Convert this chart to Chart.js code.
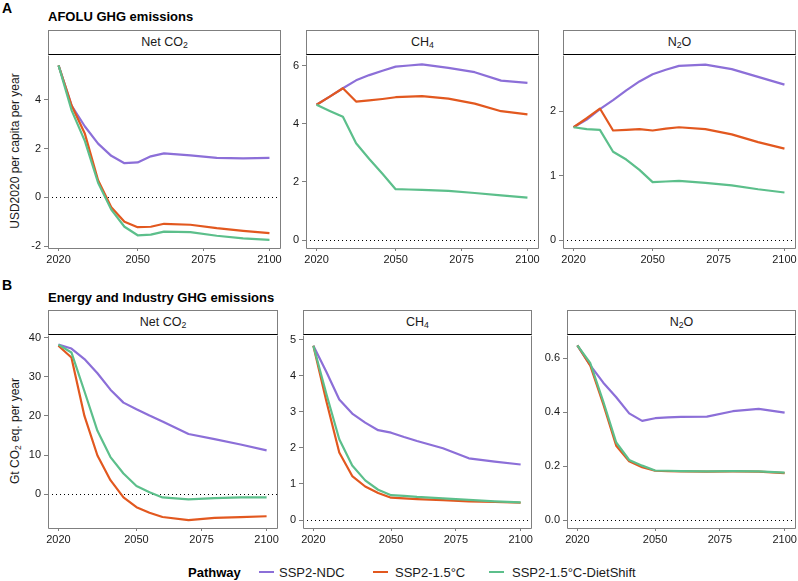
<!DOCTYPE html>
<html lang="en">
<head>
<meta charset="UTF-8">
<title>AFOLU and Energy GHG emissions</title>
<script src="https://cdn.jsdelivr.net/npm/chart.js"></script>
<style>
  body { margin:0; width:798px; height:581px; position:relative; overflow:hidden; background:#fff;
         font-family:"Liberation Sans", Arial, sans-serif; color:#1a1a1a; }
  .txt { position:absolute; line-height:1; white-space:nowrap; }
  .tag { font-weight:bold; font-size:14px; color:#000; }
  .title { font-weight:bold; font-size:13px; color:#000; }
  .strip { position:absolute; box-sizing:border-box; border:1px solid #7f7f7f; border-bottom:1px solid #000;
           text-align:center; font-size:12.5px; background:#fff; }
  .ytitle { position:absolute; width:240px; text-align:center; font-size:12px; line-height:1;
            transform:rotate(-90deg); white-space:nowrap; }
  sub { font-size:70%; vertical-align:-2px; line-height:0; }
  canvas { position:absolute; }
  .key { position:absolute; height:2px; width:15px; }
  .leg { position:absolute; font-size:13px; line-height:1; white-space:nowrap; top:566px; }
</style>
</head>
<body>

<div class="txt tag" style="left:2px; top:1px;">A</div>
<div class="txt title" style="left:48px; top:10px;">AFOLU GHG emissions</div>
<div class="txt tag" style="left:2px; top:278px;">B</div>
<div class="txt title" style="left:48px; top:291px;">Energy and Industry GHG emissions</div>

<div class="ytitle" style="left:-105px; top:145px;">USD2020 per capita per year</div>
<div class="ytitle" style="left:-105px; top:425px;">Gt CO<sub>2</sub> eq. per year</div>

<div id="strips"></div>

<canvas id="a1"></canvas>
<canvas id="a2"></canvas>
<canvas id="a3"></canvas>
<canvas id="b1"></canvas>
<canvas id="b2"></canvas>
<canvas id="b3"></canvas>

<div class="txt" style="left:188px; top:566px; font-size:13px; font-weight:bold; color:#000;">Pathway</div>
<div class="key" id="k1" style="left:259px; top:571px;"></div>
<div class="leg" style="left:279px;">SSP2-NDC</div>
<div class="key" id="k2" style="left:373px; top:571px;"></div>
<div class="leg" style="left:395px;">SSP2-1.5°C</div>
<div class="key" id="k3" style="left:489px; top:571px;"></div>
<div class="leg" style="left:512px;">SSP2-1.5°C-DietShift</div>

<script>
var years = [2020, 2025, 2030, 2035, 2040, 2045, 2050, 2055, 2060, 2070, 2080, 2090, 2100]
var xTicks = [2020, 2050, 2075, 2100]
var pathways = ['SSP2-NDC', 'SSP2-1.5°C', 'SSP2-1.5°C-DietShift']

// A: AFOLU
var afoluCO2_ndc  = [5.4, 3.75, 2.9, 2.2, 1.7, 1.4, 1.43, 1.68, 1.8, 1.72, 1.62, 1.6, 1.62]
var afoluCO2_15   = [5.4, 3.75, 2.6, 0.7, -0.4, -1.0, -1.22, -1.2, -1.08, -1.12, -1.26, -1.37, -1.46]
var afoluCO2_diet = [5.4, 3.55, 2.3, 0.6, -0.5, -1.2, -1.55, -1.52, -1.4, -1.42, -1.57, -1.68, -1.74]

var afoluCH4_ndc  = [4.65, 4.93, 5.22, 5.49, 5.67, 5.82, 5.96, 6.0, 6.04, 5.92, 5.77, 5.48, 5.4]
var afoluCH4_15   = [4.65, 4.93, 5.22, 4.76, 4.8, 4.85, 4.91, 4.93, 4.95, 4.86, 4.69, 4.43, 4.32]
var afoluCH4_diet = [4.65, 4.44, 4.24, 3.33, 2.79, 2.28, 1.75, 1.74, 1.73, 1.69, 1.62, 1.54, 1.46]

var afoluN2O_ndc  = [1.75, 1.87, 2.03, 2.17, 2.32, 2.46, 2.57, 2.64, 2.7, 2.72, 2.65, 2.53, 2.41]
var afoluN2O_15   = [1.75, 1.89, 2.04, 1.7, 1.71, 1.72, 1.7, 1.73, 1.75, 1.72, 1.64, 1.52, 1.42]
var afoluN2O_diet = [1.75, 1.72, 1.71, 1.37, 1.25, 1.09, 0.9, 0.91, 0.92, 0.89, 0.85, 0.79, 0.74]

// B: Energy and Industry
var enCO2_ndc  = [38.2, 37.2, 34.5, 30.9, 26.7, 23.4, 21.7, 20.1, 18.6, 15.4, 14.1, 12.7, 11.2]
var enCO2_15   = [37.9, 34.9, 20, 9.9, 3.6, -0.8, -3.3, -4.7, -5.8, -6.6, -6.0, -5.8, -5.6]
var enCO2_diet = [38.2, 36.2, 26.3, 16.2, 9.5, 5.3, 2.1, 0.5, -0.8, -1.3, -1.0, -0.8, -0.8]

var enCH4_ndc  = [4.83, 4.11, 3.34, 2.95, 2.7, 2.49, 2.42, 2.3, 2.19, 1.99, 1.71, 1.62, 1.54]
var enCH4_15   = [4.83, 3.3, 1.87, 1.22, 0.93, 0.75, 0.62, 0.6, 0.58, 0.55, 0.52, 0.5, 0.48]
var enCH4_diet = [4.83, 3.5, 2.24, 1.51, 1.1, 0.84, 0.69, 0.67, 0.64, 0.6, 0.56, 0.52, 0.49]

var enN2O_ndc  = [0.648, 0.574, 0.51, 0.456, 0.396, 0.368, 0.378, 0.381, 0.383, 0.384, 0.404, 0.413, 0.399]
var enN2O_15   = [0.648, 0.573, 0.43, 0.276, 0.218, 0.196, 0.183, 0.182, 0.181, 0.18, 0.181, 0.18, 0.174]
var enN2O_diet = [0.648, 0.582, 0.44, 0.288, 0.223, 0.202, 0.184, 0.183, 0.182, 0.181, 0.182, 0.181, 0.176]

// tick labels per panel
var ticksA1 = [-2, 0, 2, 4]
var ticksA2 = [0, 2, 4, 6]
var ticksA3 = [0, 1, 2]
var ticksB1 = [0, 10, 20, 30, 40]
var ticksB2 = [0, 1, 2, 3, 4, 5]
var ticksB3 = [0, 0.2, 0.4, 0.6]

var colors = ['#8c6fd8', '#e2581f', '#5cbf8b']
var gray = '#7f7f7f'

document.getElementById('k1').style.background = colors[0]
document.getElementById('k2').style.background = colors[1]
document.getElementById('k3').style.background = colors[2]

var frame = {
  id: 'frame',
  beforeDatasetsDraw: function (chart) {
    var a = chart.chartArea, c = chart.ctx
    var y0 = Math.round(chart.scales.y.getPixelForValue(0)) + 0.5
    c.save()
    c.strokeStyle = '#000'
    c.lineWidth = 1
    c.setLineDash([1, 3])
    c.beginPath()
    c.moveTo(a.left, y0)
    c.lineTo(a.right, y0)
    c.stroke()
    c.restore()
  },
  afterDraw: function (chart) {
    var a = chart.chartArea, c = chart.ctx
    c.save()
    c.strokeStyle = gray
    c.lineWidth = 1
    c.beginPath()
    c.moveTo(a.left + 0.5, a.top)
    c.lineTo(a.left + 0.5, a.bottom + 0.5)
    c.lineTo(a.right + 0.5, a.bottom + 0.5)
    c.lineTo(a.right + 0.5, a.top)
    c.stroke()
    c.restore()
  }
}

function pts(vals) {
  var out = []
  for (var i = 0; i < years.length; i++) out.push({ x: years[i], y: vals[i] })
  return out
}

function strip(box, top, html) {
  var d = document.createElement('div')
  d.className = 'strip'
  d.style.left = box[0] + 'px'
  d.style.top = top + 'px'
  d.style.width = (box[2] - box[0] + 1) + 'px'
  d.style.height = (box[1] - top + 1) + 'px'
  d.style.lineHeight = (box[1] - top - 1) + 'px'
  d.innerHTML = html
  document.getElementById('strips').appendChild(d)
}

// box = [left, top, right, bottom] of the plot panel
function panel(id, box, series, yMin, yMax, yTicks, digits) {
  var cv = document.getElementById(id)
  cv.width = box[2] - box[0] + 55
  cv.height = box[3] - box[1] + 28
  cv.style.left = (box[0] - 40) + 'px'
  cv.style.top = (box[1] - 8) + 'px'

  var sets = []
  for (var i = 0; i < 3; i++) {
    sets.push({
      label: pathways[i],
      data: pts(series[i]),
      borderColor: colors[i],
      backgroundColor: colors[i],
      order: 3 - i
    })
  }

  new Chart(cv, {
    type: 'line',
    data: { datasets: sets },
    options: {
      responsive: false,
      animation: false,
      layout: { padding: { top: 8, right: 15, left: 0, bottom: 0 } },
      elements: {
        point: { radius: 0 },
        line: { borderWidth: 2.2, tension: 0, borderJoinStyle: 'round', borderCapStyle: 'butt' }
      },
      plugins: { legend: { display: false }, tooltip: { enabled: false } },
      scales: {
        x: {
          type: 'linear', min: 2016, max: 2104,
          afterBuildTicks: function (s) { s.ticks = xTicks.map(function (v) { return { value: v } }) },
          afterFit: function (s) { s.height = 20 },
          border: { display: false },
          grid: { drawOnChartArea: false, drawTicks: true, tickLength: 3, color: gray },
          ticks: { autoSkip: false, maxRotation: 0, padding: 2, color: '#1a1a1a',
                   font: { family: 'Liberation Sans', size: 11 },
                   callback: function (v) { return String(v) } }
        },
        y: {
          min: yMin, max: yMax,
          afterBuildTicks: function (s) { s.ticks = yTicks.map(function (v) { return { value: v } }) },
          afterFit: function (s) { s.width = 40 },
          border: { display: false },
          grid: { drawOnChartArea: false, drawTicks: true, tickLength: 4, color: gray },
          ticks: { padding: 3, color: '#1a1a1a',
                   font: { family: 'Liberation Sans', size: 11 },
                   callback: function (v) { return v.toFixed(digits) } }
        }
      }
    },
    plugins: [frame]
  })
}

var boxA1 = [48, 54, 280, 248], boxA2 = [306, 54, 538, 248], boxA3 = [563, 54, 795, 248]
var boxB1 = [48, 334, 277, 528], boxB2 = [303, 334, 531, 528], boxB3 = [567, 334, 795, 528]

strip(boxA1, 30, 'Net CO<sub>2</sub>')
strip(boxA2, 30, 'CH<sub>4</sub>')
strip(boxA3, 30, 'N<sub>2</sub>O')
strip(boxB1, 310, 'Net CO<sub>2</sub>')
strip(boxB2, 310, 'CH<sub>4</sub>')
strip(boxB3, 310, 'N<sub>2</sub>O')

panel('a1', boxA1, [afoluCO2_ndc, afoluCO2_15, afoluCO2_diet], -2.07, 5.8, ticksA1, 0)
panel('a2', boxA2, [afoluCH4_ndc, afoluCH4_15, afoluCH4_diet], -0.27, 6.34, ticksA2, 0)
panel('a3', boxA3, [afoluN2O_ndc, afoluN2O_15, afoluN2O_diet], -0.12, 2.86, ticksA3, 0)
panel('b1', boxB1, [enCO2_ndc, enCO2_15, enCO2_diet], -8.6, 40.5, ticksB1, 0)
panel('b2', boxB2, [enCH4_ndc, enCH4_15, enCH4_diet], -0.22, 5.11, ticksB2, 0)
panel('b3', boxB3, [enN2O_ndc, enN2O_15, enN2O_diet], -0.0294, 0.6846, ticksB3, 1)
</script>
</body>
</html>
